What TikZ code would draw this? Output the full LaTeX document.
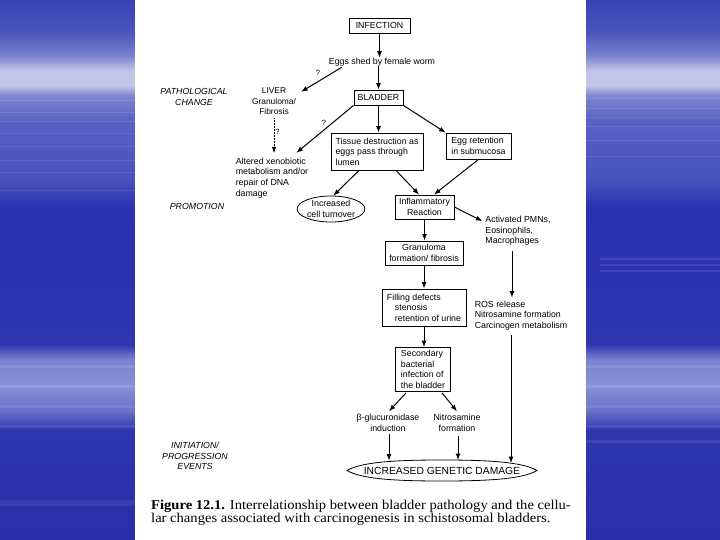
\documentclass[tikz,border=0pt]{standalone}
\usepackage{fontspec}
\setmainfont{Liberation Serif}
\setsansfont{Liberation Sans}
\newfontfamily\capfont[FakeStretch=1.08]{Liberation Serif}
\usetikzlibrary{arrows.meta,calc,shapes.geometric}
\definecolor{s0}{HTML}{3A42B6}
\definecolor{s1}{HTML}{4A52BC}
\definecolor{s2}{HTML}{7880CC}
\definecolor{s3}{HTML}{C0C4E6}
\definecolor{s4}{HTML}{C4C8E8}
\definecolor{s5}{HTML}{8088D0}
\definecolor{s6}{HTML}{5A62C4}
\definecolor{s7}{HTML}{4850BC}
\definecolor{s8}{HTML}{2A30B0}
\definecolor{s9}{HTML}{3036B0}
\definecolor{s10}{HTML}{7A82D0}
\definecolor{s11}{HTML}{8A90D4}
\definecolor{s12}{HTML}{6A72C8}
\definecolor{s13}{HTML}{2F36AE}
\definecolor{s14}{HTML}{2A2EA8}
\pgfdeclareverticalshading{sky}{100bp}{%
color(0bp)=(s14);color(25bp)=(s14);color(35.2bp)=(s13);color(37bp)=(s12);%
color(39.35bp)=(s11);color(41.7bp)=(s10);color(43.1bp)=(s9);color(55.6bp)=(s8);%
color(58.3bp)=(s7);color(63.9bp)=(s6);color(66.2bp)=(s5);color(67.1bp)=(s4);%
color(68.5bp)=(s3);color(69.9bp)=(s2);color(72.2bp)=(s1);color(75bp)=(s0);color(100bp)=(s0)}
\tikzset{
  base/.style={font=\sffamily\fontsize{8.8}{10.6}\selectfont, inner sep=0pt},
  box/.style={base, draw, line width=0.8pt},
  txt/.style={base, align=center},
  lab/.style={font=\sffamily\itshape\fontsize{8.8}{10.4}\selectfont, inner sep=0pt, align=center},
  arr/.style={-{Latex[length=6.5pt,width=5pt]}, line width=1pt},
  darr/.style={-{Latex[length=6pt,width=4.5pt]}, line width=0.5pt, densely dotted},
  streak/.style={white, opacity=0.09}
}
\begin{document}
\begin{tikzpicture}[x=1pt,y=-1pt]
\useasboundingbox (0,0) rectangle (720,540);
% background
\shade[shading=sky] (0,0) rectangle (135,540);
\shade[shading=sky] (586,0) rectangle (720,540);
\foreach \yy in {100,112,121,133,146,160,172,190} {\fill[streak] (0,\yy) rectangle (135,\yy+1.5);}
\foreach \yy in {98,108,117,126,140,156} {\fill[streak] (586,\yy) rectangle (720,\yy+1.5);}
\foreach \yy in {258,264,270} {\fill[streak] (600,\yy) rectangle (720,\yy+2);}
\foreach \yy in {365,385,405,425} {\fill[streak] (0,\yy) rectangle (135,\yy+3);}
\foreach \yy in {365,385,405,425,440} {\fill[streak] (586,\yy) rectangle (720,\yy+3);}
\fill[white, opacity=0.06] (0,500) rectangle (135,506);
\fill[white] (135,0) rectangle (586,540);

% nodes
\node[box, minimum width=61pt, minimum height=15pt] (inf) at (379.5,25.5) {INFECTION};
\node[txt] (eggs) at (382,62) {Eggs shed by female worm};
\node[box, minimum width=49pt, minimum height=15pt] (bl) at (378.5,97.5) {BLADDER};
\node[txt, font=\sffamily\fontsize{8.4}{10.6}\selectfont] (liver) at (274,101.5) {LIVER\\Granuloma/\\Fibrosis};
\node[lab] (patho) at (194,97) {PATHOLOGICAL\\CHANGE};
\node[base, align=left] (alt) at (272,178) {Altered xenobiotic\\metabolism and/or\\repair of DNA\\damage};
\node[box, align=left, minimum width=92pt, minimum height=37pt] (tis) at (377,151.5) {Tissue destruction as\\eggs pass through\\lumen};
\node[box, align=left, minimum width=65pt, minimum height=26pt] (egg) at (478.5,146) {Egg retention\\in submucosa};
\node[lab] (promo) at (197,206) {PROMOTION};
\node[base, align=center, ellipse, draw, line width=0.8pt, minimum width=67pt, minimum height=26pt] (turn) at (331,209) {Increased\\cell turnover};
\node[box, align=center, minimum width=59pt, minimum height=24pt] (infl) at (424.5,207) {Inflammatory\\Reaction};
\node[base, align=left] (act) at (518,231) {Activated PMNs,\\Eosinophils,\\Macrophages};
\node[box, align=center, minimum width=78pt, minimum height=24pt] (gran) at (424,253) {Granuloma\\formation/ fibrosis};
\node[box, align=left, minimum width=84pt, minimum height=37pt] (fill) at (424,307.5) {Filling defects\\\hspace*{8pt}stenosis\\\hspace*{8pt}retention of urine};
\node[base, align=left] (ros) at (521,315.5) {ROS release\\Nitrosamine formation\\Carcinogen metabolism};
\node[box, align=left, minimum width=55pt, minimum height=44pt] (sec) at (423,369.5) {Secondary\\bacterial\\infection of\\the bladder};
\node[txt] (beta) at (388,423) {β-glucuronidase\\induction};
\node[txt] (nitro) at (457,423) {Nitrosamine\\formation};
\node[lab] (init) at (195,456) {INITIATION/\\PROGRESSION\\EVENTS};
\node[base, font=\sffamily\fontsize{10.3}{12}\selectfont] (dmg) at (442,470.5) {INCREASED GENETIC DAMAGE};
\draw[line width=0.8pt] ($(dmg)+(-95,0)$) .. controls ($(dmg)+(-80,-9)$) and ($(dmg)+(-42,-10.5)$) .. ($(dmg)+(0,-10.5)$)
  .. controls ($(dmg)+(42,-10.5)$) and ($(dmg)+(80,-9)$) .. ($(dmg)+(95,0)$)
  .. controls ($(dmg)+(80,9)$) and ($(dmg)+(42,10.5)$) .. ($(dmg)+(0,10.5)$)
  .. controls ($(dmg)+(-42,10.5)$) and ($(dmg)+(-80,9)$) .. cycle;
\node[anchor=north west, inner sep=0pt, align=left, font=\capfont\fontsize{13.5}{13}\selectfont] (cap) at (151,500)
  {\textbf{Figure 12.1.} Interrelationship between bladder pathology and the cellu-\\lar changes associated with carcinogenesis in schistosomal bladders.};
% question marks
\node[txt, font=\sffamily\fontsize{7.5}{9}\selectfont] (q1) at (318,73) {?};
\node[txt, font=\sffamily\fontsize{7.5}{9}\selectfont] (q2) at (277.5,132) {?};
\node[txt, font=\sffamily\fontsize{7.5}{9}\selectfont] (q3) at (324,123) {?};

% connectors
\draw[arr] (inf.south) -- (inf.south |- eggs.north);
\draw[arr] ($(eggs.south west)+(13,1)$) -- ($(liver.north east)+(5,4)$);
\draw[arr] (eggs.south -| bl) -- (bl.north);
\draw[darr] ($(liver.south)+(0,3)$) -- ($(liver.south |- alt.north)+(0,-5)$);
\draw[arr] (bl.south west) -- ($(alt.north east)+(-12,-5)$);
\draw[arr] (bl.south) -- (bl.south |- tis.north);
\draw[arr] (bl.south east) -- (egg.north west);
\draw[arr] ($(tis.south)+(-18,0)$) -- (turn.80);
\draw[arr] ($(tis.south)+(19,0)$) -- ($(infl.north)+(-5.5,0)$);
\draw[arr] (egg.south) -- ($(infl.north)+(9.5,0)$);
\draw[arr] (infl.east) -- ($(act.north west)+(-3,5)$);
\draw[arr] (infl.south) -- (infl.south |- gran.north);
\draw[arr] (gran.south) -- (gran.south |- fill.north);
\draw[arr] ($(act.south)+(-6,5)$) -- ($(act.south |- ros.north)+(-6,-3)$);
\draw[arr] (fill.south) -- (fill.south |- sec.north);
\draw[arr] ($(sec.south)+(-17,1)$) -- ($(beta.north)+(1,-3)$);
\draw[arr] ($(sec.south)+(19,1)$) -- ($(nitro.north)+(0,-3)$);
\draw[arr] ($(beta.south)+(1,2)$) -- ($(dmg)+(-53,-10)$);
\draw[arr] ($(nitro.south)+(1,4)$) -- ($(dmg)+(16,-10.5)$);
\draw[arr] ($(ros.south)+(-10,5)$) -- ($(dmg)+(69,-7.5)$);
\end{tikzpicture}
\end{document}
